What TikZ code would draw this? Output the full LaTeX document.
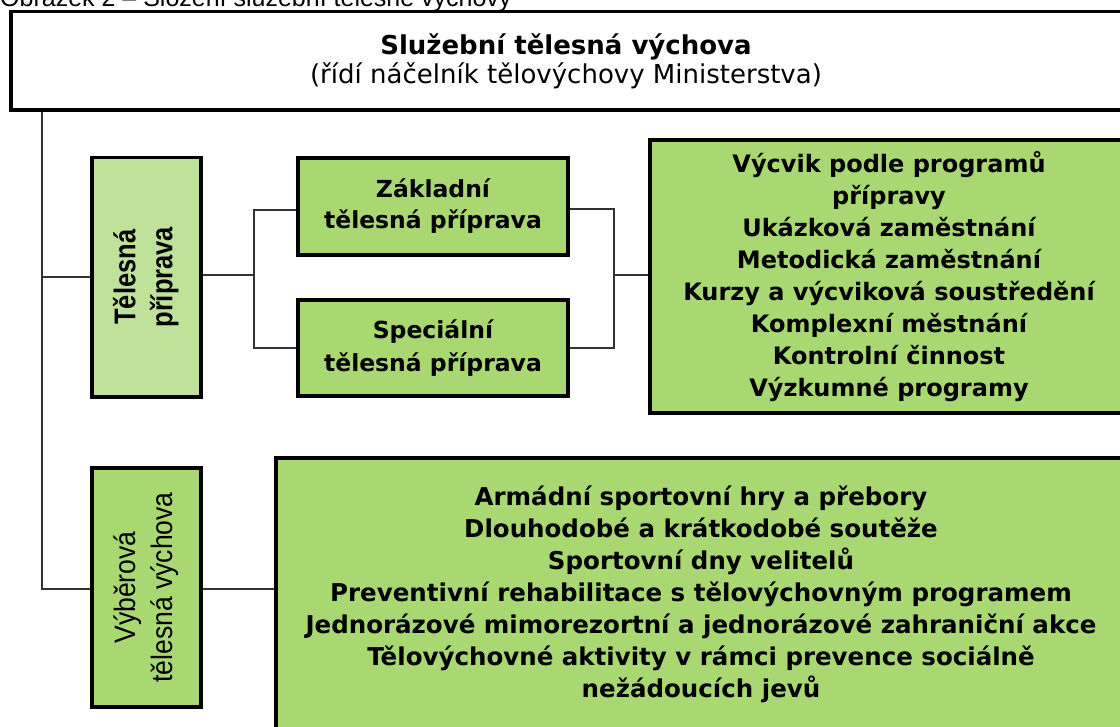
\documentclass[tikz,border=0pt]{standalone}
\usepackage{fontspec}
\usepackage{graphicx}
\usetikzlibrary{backgrounds}
\setmainfont{DejaVu Sans}
\newfontfamily\arialf{Liberation Sans}
\newfontfamily\narrowbf[FakeStretch=0.85]{Liberation Sans Bold}
\newfontfamily\narrowrg[FakeStretch=0.9]{Liberation Sans}
\definecolor{gLight}{RGB}{191,226,154}
\definecolor{gMain}{RGB}{169,216,114}
\tikzset{
  box/.style={draw=black, line width=3.5pt, fill=gMain, inner sep=0pt, align=center, text=black},
  conn/.style={draw=black!80, line width=1.5pt},
  label/.style={inner sep=0pt, align=center, text=black},
}
\begin{document}
\begin{tikzpicture}[x=1pt,y=-1pt]
\useasboundingbox (0,0) rectangle (1120,727);
\clip (0,0) rectangle (1120,727);

\node[anchor=base west, inner sep=0pt, font=\arialf\fontsize{25}{30}\selectfont] (cap) at (0,7) {Obrázek 2 – Složení služební tělesné výchovy};

\node[box, fill=white, minimum width=1124pt, minimum height=98.5pt] (topbox) at (573,60.75) {};
\node[label, font=\fontsize{26}{29}\selectfont] (top) at (566,61)
  {{\bfseries Služební tělesná výchova}\\(řídí náčelník tělovýchovy Ministerstva)};

\node[box, fill=gLight, minimum width=109pt, minimum height=239.5pt] (tp) at (146.5,277.25)
  {\rotatebox{90}{\narrowbf\fontsize{30}{37}\selectfont\begin{tabular}{@{}c@{}}Tělesná\\příprava\end{tabular}}};

\node[box, minimum width=270pt, minimum height=97pt, font=\bfseries\fontsize{23.5}{31}\selectfont] (zak) at (433,206.5)
  {Základní\\tělesná příprava};
\node[box, minimum width=270pt, minimum height=96pt, font=\bfseries\fontsize{23.5}{33}\selectfont] (spec) at (433,348)
  {Speciální\\tělesná příprava};

\node[box, minimum width=478pt, minimum height=273pt, font=\bfseries\fontsize{24}{31.9}\selectfont] (prog) at (889,276.5)
  {Výcvik podle programů\\přípravy\\Ukázková zaměstnání\\Metodická zaměstnání\\Kurzy a výcviková soustředění\\Komplexní městnání\\Kontrolní činnost\\Výzkumné programy};

\node[box, minimum width=109pt, minimum height=239pt] (vyb) at (146.5,587.5)
  {\rotatebox{90}{\narrowrg\fontsize{29.5}{37}\selectfont\begin{tabular}{@{}c@{}}Výběrová\\tělesná výchova\end{tabular}}};

\node[box, minimum width=850pt, minimum height=273pt, font=\bfseries\fontsize{24.5}{31.9}\selectfont] (akt) at (701,594.5)
  {Armádní sportovní hry a přebory\\Dlouhodobé a krátkodobé soutěže\\Sportovní dny velitelů\\Preventivní rehabilitace s tělovýchovným programem\\Jednorázové mimorezortní a jednorázové zahraniční akce\\Tělovýchovné aktivity v rámci prevence sociálně\\nežádoucích jevů};

\coordinate (t1) at (42,277);
\coordinate (t2) at (42,589);
\coordinate (jl) at (254,275);
\coordinate (jlt) at (254,210);
\coordinate (jlb) at (254,348);
\coordinate (jr) at (614,275);
\coordinate (jrt) at (614,209);
\coordinate (jrb) at (614,348);

\begin{scope}[on background layer]
\fill[white] (0,0) rectangle (1120,727);
\draw[conn] (topbox.south -| t1) -- (t2) -- (t2 -| vyb.west);
\draw[conn] (t1) -- (t1 -| tp.west);
\draw[conn] (tp.east |- jl) -- (jl);
\draw[conn] (jlt -| zak.west) -- (jlt) -- (jlb) -- (jlb -| spec.west);
\draw[conn] (jrt -| zak.east) -- (jrt) -- (jrb) -- (jrb -| spec.east);
\draw[conn] (jr) -- (jr -| prog.west);
\draw[conn] (vyb.east |- t2) -- (t2 -| akt.west);
\end{scope}
\end{tikzpicture}
\end{document}
